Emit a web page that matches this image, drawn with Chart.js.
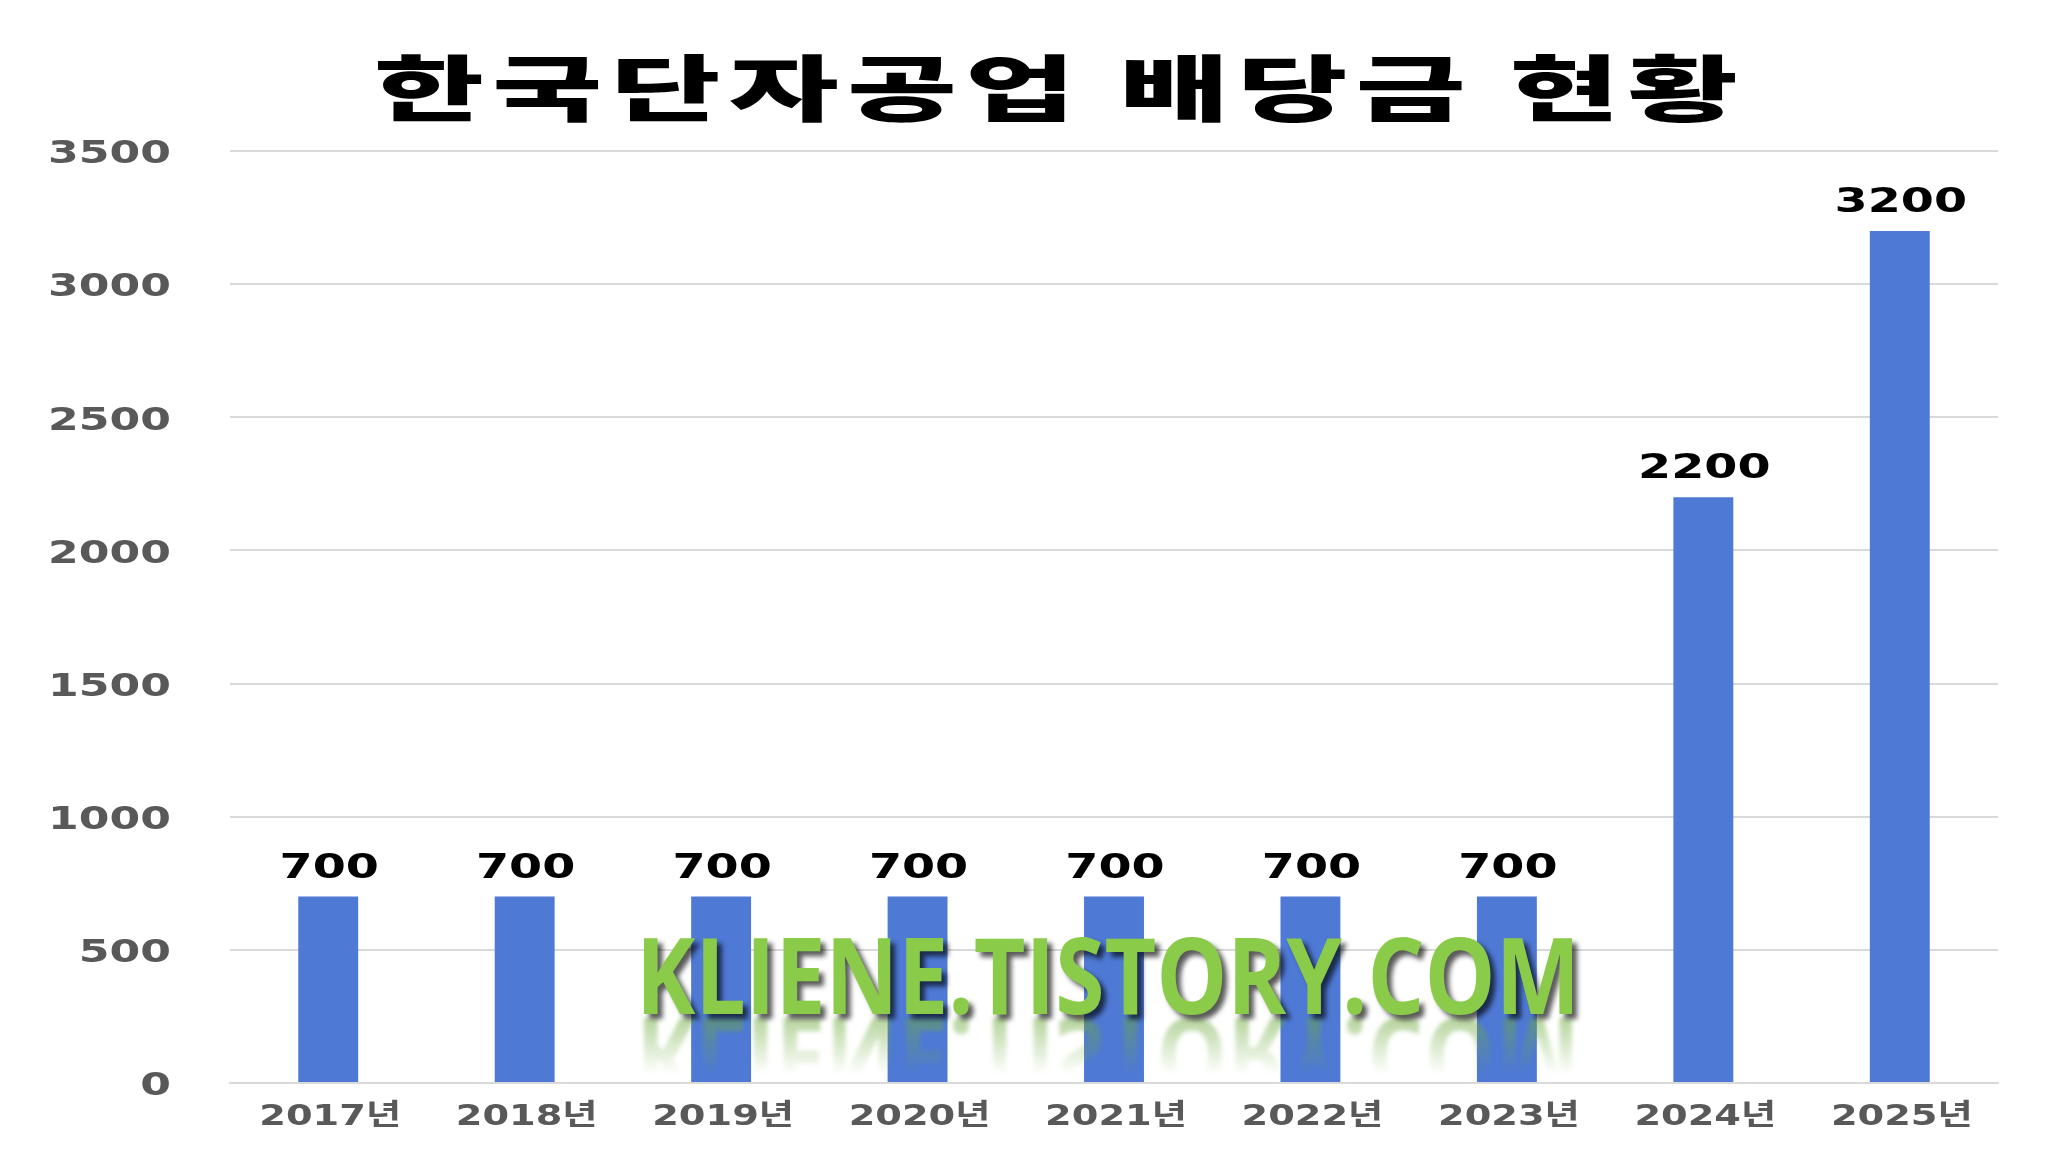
<!DOCTYPE html>
<html>
<head>
<meta charset="utf-8">
<script src="https://cdn.jsdelivr.net/npm/chart.js@4.4.1/dist/chart.umd.min.js"></script>
<style>
html, body { margin: 0; padding: 0; background: #fff; }
</style>
</head>
<body>
<canvas id="myChart" width="2065" height="1157"></canvas>
<script>
// dividend per share, 2017 ~ 2025
const years = ['2017년', '2018년', '2019년', '2020년', '2021년', '2022년', '2023년', '2024년', '2025년'];
const dividends = [700, 700, 700, 700, 700, 700, 700, 2200, 3200];
const yTicks = [0, 500, 1000, 1500, 2000, 2500, 3000, 3500];
const titleText = '한국단자공업 배당금 현황';
const watermark = 'KLIENE.TISTORY.COM';

// the source image uses a wide font, so text is drawn stretched sideways
function wideText(ctx, text, x, y, sx, align) {
    ctx.save();
    ctx.translate(x, y);
    ctx.scale(sx, 1);
    ctx.textAlign = align;
    ctx.fillText(text, 0, 0);
    ctx.restore();
}

const tickLabels = {
    id: 'tickLabels',
    beforeDatasetsDraw(chart) {
        const ctx = chart.ctx;
        const xs = chart.scales.x, ys = chart.scales.y;
        ctx.save();
        ctx.fillStyle = '#595959';
        ctx.textBaseline = 'middle';
        ctx.font = 'bold 32px "DejaVu Sans"';
        ys.ticks.forEach((t, i) => {
            wideText(ctx, String(t.value), ys.right - 59, ys.getPixelForTick(i) + 4, 1.38, 'right');
        });
        ctx.font = 'bold 29px "DejaVu Sans", "Noto Sans CJK KR"';
        xs.ticks.forEach((t, i) => {
            wideText(ctx, chart.data.labels[i], xs.getPixelForTick(i) + 2, xs.top + 34, 1.32, 'center');
        });
        ctx.restore();
    }
};

const barLabels = {
    id: 'barLabels',
    afterDatasetsDraw(chart) {
        const ctx = chart.ctx;
        const meta = chart.getDatasetMeta(0);
        ctx.save();
        ctx.font = 'bold 34px "DejaVu Sans"';
        ctx.fillStyle = '#000';
        ctx.textBaseline = 'alphabetic';
        meta.data.forEach((bar, i) => {
            wideText(ctx, String(dividends[i]), bar.x + 1, bar.y - 19, 1.4, 'center');
        });
        ctx.restore();
    }
};

const titleAndMark = {
    id: 'titleAndMark',
    afterDraw(chart) {
        const ctx = chart.ctx;

        // title
        ctx.save();
        ctx.letterSpacing = '5px';
        ctx.font = '900 72px "Noto Sans CJK KR"';
        ctx.fillStyle = '#000';
        ctx.textBaseline = 'middle';
        wideText(ctx, titleText, 1060, 88, 1.66, 'center');
        ctx.restore();

        // watermark
        ctx.save();
        ctx.font = 'bold 106px "Open Sans"';
        const w = ctx.measureText(watermark).width;
        ctx.translate(1108, 1014);
        ctx.scale(944 / w, 1);
        ctx.textAlign = 'center';
        ctx.textBaseline = 'alphabetic';

        // reflection
        ctx.save();
        ctx.scale(1, -1);
        const g = ctx.createLinearGradient(0, -4, 0, -60);
        g.addColorStop(0, 'rgba(110,170,60,0.5)');
        g.addColorStop(1, 'rgba(110,170,60,0)');
        ctx.fillStyle = g;
        ctx.filter = 'blur(2px)';
        ctx.fillText(watermark, 0, -4);
        ctx.restore();

        ctx.shadowColor = 'rgba(0,0,0,0.65)';
        ctx.shadowOffsetX = 5;
        ctx.shadowOffsetY = 5;
        ctx.shadowBlur = 5;
        ctx.fillStyle = '#8bcb4a';
        ctx.fillText(watermark, 0, 0);
        ctx.restore();
    }
};

const ctx = document.querySelector('#myChart');
const myChart = new Chart(ctx, {
    type: 'bar',
    data: {
        labels: years,
        datasets: [{
            data: dividends,
            backgroundColor: '#4e79d5',
            borderWidth: 0,
            categoryPercentage: 1,
            barPercentage: 0.305
        }]
    },
    options: {
        responsive: false,
        animation: false,
        devicePixelRatio: 1,
        layout: { padding: { top: 151, right: 67, left: 0, bottom: 0 } },
        plugins: {
            legend: { display: false },
            title: { display: false },
            tooltip: { enabled: false }
        },
        scales: {
            x: {
                grid: { display: false },
                border: { color: '#d9d9d9', width: 2 },
                ticks: { display: false },
                afterFit(scale) { scale.height = 74; }
            },
            y: {
                min: 0,
                max: 3500,
                grid: { color: '#d9d9d9', lineWidth: 2, drawTicks: false },
                border: { display: false },
                ticks: { display: false },
                afterBuildTicks(scale) { scale.ticks = yTicks.map(v => ({ value: v })); },
                afterFit(scale) { scale.width = 230; }
            }
        }
    },
    plugins: [tickLabels, barLabels, titleAndMark]
});
</script>
</body>
</html>
